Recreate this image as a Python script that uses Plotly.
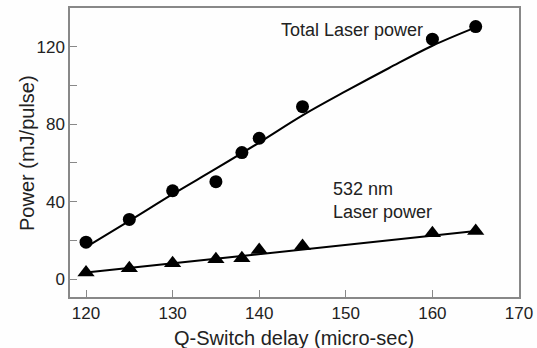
import plotly.graph_objects as go

delay = [120, 125, 130, 135, 138, 140, 145, 160, 165]
total_power = [19, 30.8, 45.6, 50.3, 65.3, 72.7, 89, 123.9, 130.4]
green_power = [3.3, 5.5, 8.1, 10.2, 10.7, 15, 17, 23.6, 24.8]

fit_x = [120, 125, 130, 135, 140, 145, 150, 155, 160, 165]
total_fit = [16.5, 30, 43.8, 57, 70.5, 84.5, 97, 109, 120.5, 130]
green_fit_x = [120, 165]
green_fit = [3.3, 24.8]

x_ticks = [120, 130, 140, 150, 160, 170]
y_ticks = [0, 20, 40, 60, 80, 100, 120]
y_tick_text = ["0", "", "40", "", "80", "", "120"]

FONT = "Liberation Sans, Arial, Helvetica, sans-serif"
TXT = "#222"

fig = go.Figure()
fig.add_trace(go.Scatter(x=fit_x, y=total_fit, mode="lines", line=dict(color="black", width=2, shape="spline"), hoverinfo="skip"))
fig.add_trace(go.Scatter(x=green_fit_x, y=green_fit, mode="lines", line=dict(color="black", width=2), hoverinfo="skip"))
fig.add_trace(go.Scatter(x=delay, y=total_power, mode="markers", marker=dict(symbol="circle", size=13, color="black")))
fig.add_trace(go.Scatter(x=delay, y=green_power, mode="markers", marker=dict(symbol="triangle-up", size=15, color="black")))

fig.add_annotation(x=150.7, y=128.7, text="Total Laser power", showarrow=False, font=dict(size=18, color=TXT, family=FONT))
fig.add_annotation(x=148.3, y=40.8, text="532 nm<br>Laser power", showarrow=False, xanchor="left", align="left", font=dict(size=18, color=TXT, family=FONT))

# axis titles
fig.add_annotation(xref="paper", yref="paper", x=-0.096, y=0.498, text="Power (mJ/pulse)", textangle=-90, showarrow=False,
                   xanchor="center", yanchor="middle", font=dict(size=20, color=TXT, family=FONT))
fig.add_annotation(xref="paper", yref="paper", x=0.498, y=-0.142, text="Q-Switch delay (micro-sec)", showarrow=False,
                   xanchor="center", yanchor="middle", font=dict(size=20, color=TXT, family=FONT))

axis_common = dict(showline=True, linecolor="#888", linewidth=1.5, mirror=True, ticks="inside", tickcolor="#888", ticklen=7, showgrid=False, zeroline=False, tickfont=dict(size=17, color=TXT, family=FONT))
fig.update_xaxes(range=[118.15, 170], tickvals=x_ticks, **axis_common)
fig.update_yaxes(range=[-9.3, 140], tickvals=y_ticks, ticktext=y_tick_text, **axis_common)

fig.update_layout(width=537, height=348, margin=dict(l=70, r=18, t=8, b=51, autoexpand=False), showlegend=False,
                  plot_bgcolor="#fefefe", paper_bgcolor="#fefefe", font=dict(family=FONT))
fig.write_html("out.html", config={"displayModeBar": False},
               post_script="document.body.style.margin='0';document.body.style.overflow='hidden';")
